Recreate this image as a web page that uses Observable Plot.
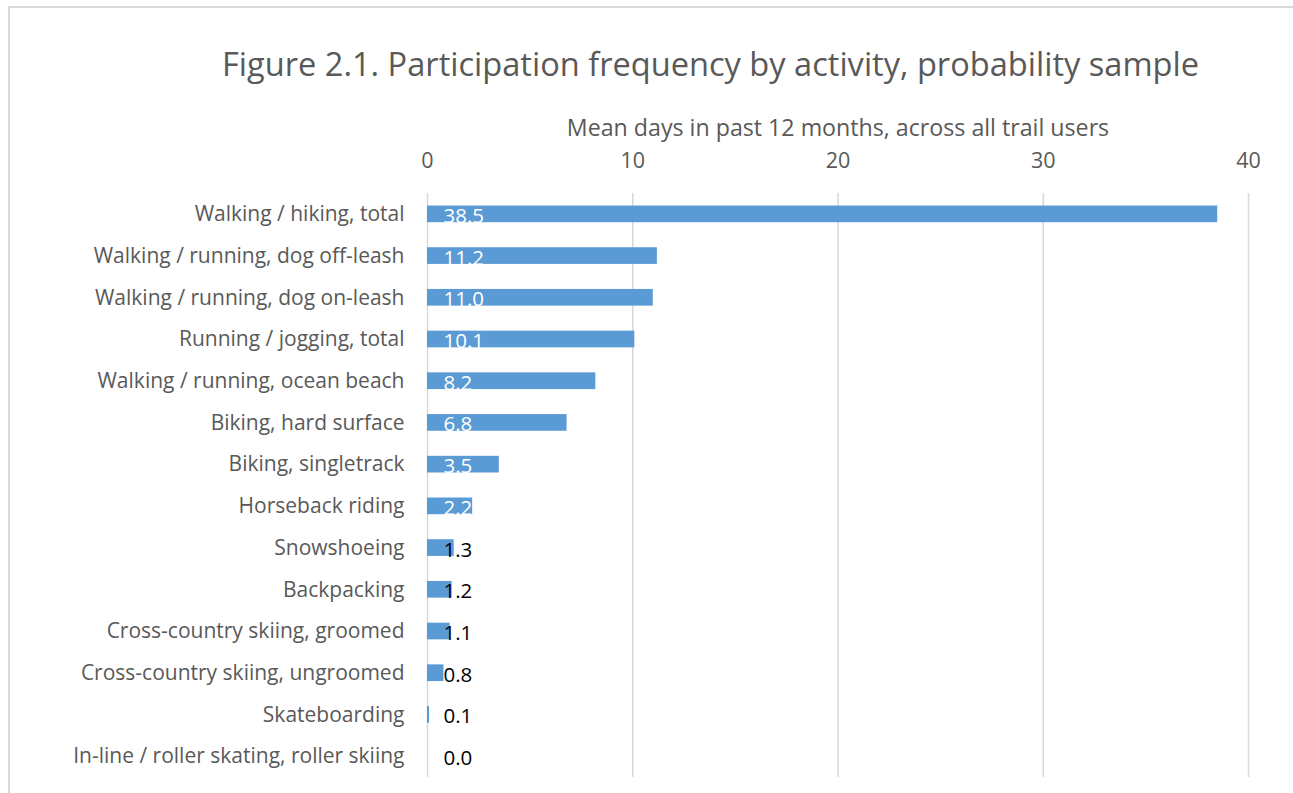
<!DOCTYPE html>
<html>
<head>
<meta charset="utf-8">
<script src="https://cdn.jsdelivr.net/npm/d3@7"></script>
<script src="https://cdn.jsdelivr.net/npm/@observablehq/plot@0.6"></script>
<style>
  html, body { margin: 0; padding: 0; background: #fff; overflow: hidden; }
  #wrap {
    position: absolute; left: 8px; top: 6px; width: 1283px; height: 787px;
    border-left: 2px solid #d9d9d9; border-top: 2px solid #d9d9d9;
    font-family: "Open Sans", sans-serif;
  }
  #title {
    height: 82px; box-sizing: border-box; padding-top: 37px;
    font-size: 32.6px; color: #595959; line-height: 38px;
    text-align: left; padding-left: 212px; white-space: nowrap;
  }
  #chart svg { display: block; }
</style>
</head>
<body>
<div id="wrap">
  <div id="title">Figure 2.1. Participation frequency by activity, probability sample</div>
  <div id="chart"></div>
</div>
<script>
const activities = [
  "Walking / hiking, total",
  "Walking / running, dog off-leash",
  "Walking / running, dog on-leash",
  "Running / jogging, total",
  "Walking / running, ocean beach",
  "Biking, hard surface",
  "Biking, singletrack",
  "Horseback riding",
  "Snowshoeing",
  "Backpacking",
  "Cross-country skiing, groomed",
  "Cross-country skiing, ungroomed",
  "Skateboarding",
  "In-line / roller skating, roller skiing"
];
const meanDays = [38.5, 11.2, 11.0, 10.1, 8.2, 6.8, 3.5, 2.2, 1.3, 1.2, 1.1, 0.8, 0.1, 0.0];
const xTicks = [0, 10, 20, 30, 40];
const axisLabel = "Mean days in past 12 months, across all trail users";

const data = activities.map((a, i) => ({activity: a, days: meanDays[i]}));

const chart = Plot.plot({
  width: 1283,
  height: 703,
  marginLeft: 417,
  marginRight: 45,
  marginTop: 103,
  marginBottom: 16,
  style: {fontFamily: "'Open Sans', sans-serif", background: "#fff", overflow: "visible"},
  x: {domain: [0, 40], ticks: xTicks},
  y: {domain: activities, paddingInner: 0.6, paddingOuter: 0.3, round: false},
  marks: [
    Plot.gridX(xTicks, {stroke: "#d9d9d9", strokeOpacity: 1, strokeWidth: 1.5}),
    Plot.barX(data, {x: "days", y: "activity", fill: "#5b9bd5"}),
    Plot.axisX({
      anchor: "top", ticks: xTicks, tickSize: 0, tickPadding: 26,
      fontSize: 21.5, color: "#595959", label: null
    }),
    Plot.axisX({
      anchor: "top", ticks: [], tickSize: 0,
      fontSize: 23.2, color: "#595959",
      label: axisLabel, labelAnchor: "center", labelArrow: "none", labelOffset: 74
    }),
    Plot.axisY({
      anchor: "left", tickSize: 0, tickPadding: 23, fontSize: 21,
      color: "#595959", label: null
    }),
    Plot.text(data, {
      x: 0, y: "activity", text: d => d.days.toFixed(1), dx: 16, dy: 2,
      textAnchor: "start", fontSize: 20.5,
      fill: d => d.days >= 2 ? "#ffffff" : "#000000"
    })
  ]
});
document.getElementById("chart").appendChild(chart);
</script>
</body>
</html>
